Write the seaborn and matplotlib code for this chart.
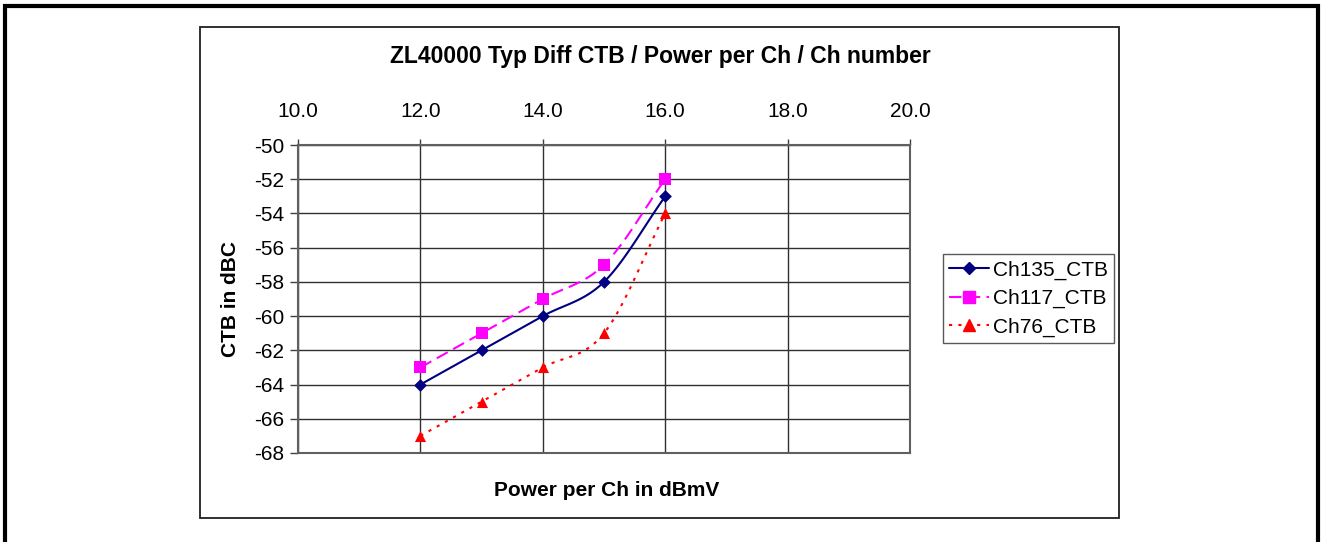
import numpy as np
import pandas as pd
import seaborn as sns
import matplotlib.pyplot as plt
from matplotlib.lines import Line2D
from matplotlib.patches import Rectangle

# data
power = [12.0, 13.0, 14.0, 15.0, 16.0]
ch135 = [-64, -62, -60, -58, -53]
ch117 = [-63, -61, -59, -57, -52]
ch76 = [-67, -65, -63, -61, -54]
series_names = ["Ch135_CTB", "Ch117_CTB", "Ch76_CTB"]
x_ticks = [10.0, 12.0, 14.0, 16.0, 18.0, 20.0]
y_ticks = list(range(-68, -49, 2))


def _smooth(x, y, n=30):
    """Catmull-Rom curve through the points (like Excel's smoothed line)."""
    x = np.asarray(x, float)
    y = np.asarray(y, float)
    px = np.concatenate([[2 * x[0] - x[1]], x, [2 * x[-1] - x[-2]]])
    py = np.concatenate([[2 * y[0] - y[1]], y, [2 * y[-1] - y[-2]]])
    xs, ys = [], []
    t = np.linspace(0, 1, n)
    for i in range(1, len(px) - 2):
        for p, out in ((px, xs), (py, ys)):
            p0, p1, p2, p3 = p[i - 1], p[i], p[i + 1], p[i + 2]
            out.extend(0.5 * (2 * p1 + (-p0 + p2) * t
                              + (2 * p0 - 5 * p1 + 4 * p2 - p3) * t ** 2
                              + (-p0 + 3 * p1 - 3 * p2 + p3) * t ** 3))
    return np.array(xs), np.array(ys)


sns.set_theme(style="white")
plt.rcParams["font.family"] = ["Liberation Sans", "DejaVu Sans"]
plt.rcParams["axes.unicode_minus"] = False
for key in ("text.color", "axes.labelcolor", "xtick.labelcolor", "ytick.labelcolor"):
    plt.rcParams[key] = "black"

fig = plt.figure(figsize=(13.22, 5.42), dpi=100)
ax = fig.add_axes([298 / 1322, 1 - 453 / 542, 612 / 1322, 308 / 542])

styles = [
    dict(color="#000080", marker="D", ls="-", ms=6.5),
    dict(color="#FF00FF", marker="s", ls=(0, (6, 3)), ms=8),
    dict(color="#FF0000", marker="^", ls=(0, (1.5, 3)), ms=8),
]

handles = []
for name, vals, st in zip(series_names, [ch135, ch117, ch76], styles):
    sx, sy = _smooth(power, vals)
    smooth_df = pd.DataFrame({"x": sx, "y": sy})
    sns.lineplot(data=smooth_df, x="x", y="y", ax=ax, color=st["color"],
                 linestyle=st["ls"], lw=1.5, sort=False, estimator=None)
    pts = pd.DataFrame({"x": power, "y": vals})
    sns.scatterplot(data=pts, x="x", y="y", ax=ax, color=st["color"],
                    marker=st["marker"], s=st["ms"] ** 2, edgecolor=st["color"],
                    linewidth=0, zorder=5)
    handles.append(Line2D([], [], color=st["color"], ls=st["ls"], lw=1.5,
                          marker=st["marker"], ms=st["ms"], label=name))

ax.set_xlim(10, 20)
ax.set_ylim(-68, -50)
ax.set_xticks(x_ticks)
ax.set_xticklabels([f"{v:.1f}" for v in x_ticks])
ax.set_yticks(y_ticks)
ax.xaxis.tick_top()
ax.tick_params(axis="x", top=True, bottom=False, direction="out", length=4,
               width=1, color="#404040", pad=13, labelsize=15)
ax.tick_params(axis="y", left=True, direction="out", length=6, width=1,
               color="#404040", pad=4, labelsize=15)
ax.grid(True, color="#303030", lw=1)
for sp in ax.spines.values():
    sp.set_color("#606060")
    sp.set_linewidth(1.5)

ax.set_xlabel("")
ax.set_ylabel("CTB in dBC", fontsize=15, fontweight="bold", labelpad=10)
fig.text(607 / 1322, 1 - 490 / 542, "Power per Ch in dBmV", ha="center",
         va="center", fontsize=15, fontweight="bold")
fig.text(660 / 1322, 1 - 57 / 542, "ZL40000 Typ Diff CTB / Power per Ch / Ch number",
         ha="center", va="center", fontsize=16.5, fontweight="bold")

leg = fig.legend(handles=handles, loc="upper left",
                 bbox_to_anchor=(943 / 1322, 1 - 254 / 542), fontsize=15,
                 frameon=True, fancybox=False, handlelength=1.9,
                 borderpad=0.3, borderaxespad=0, labelspacing=0.45,
                 handletextpad=0.2)
leg.get_frame().set_edgecolor("#303030")
leg.get_frame().set_linewidth(1)

# chart area box and outer page frame
fig.add_artist(Rectangle((200 / 1322, 1 - 518 / 542), 919 / 1322, 491 / 542,
                         transform=fig.transFigure, fill=False,
                         edgecolor="#202020", lw=1.3))
fig.add_artist(Rectangle((5 / 1322, -0.05), 1313 / 1322, 1.05 - 6 / 542,
                         transform=fig.transFigure, fill=False,
                         edgecolor="black", lw=3))

fig.savefig("out.png", dpi=100)
